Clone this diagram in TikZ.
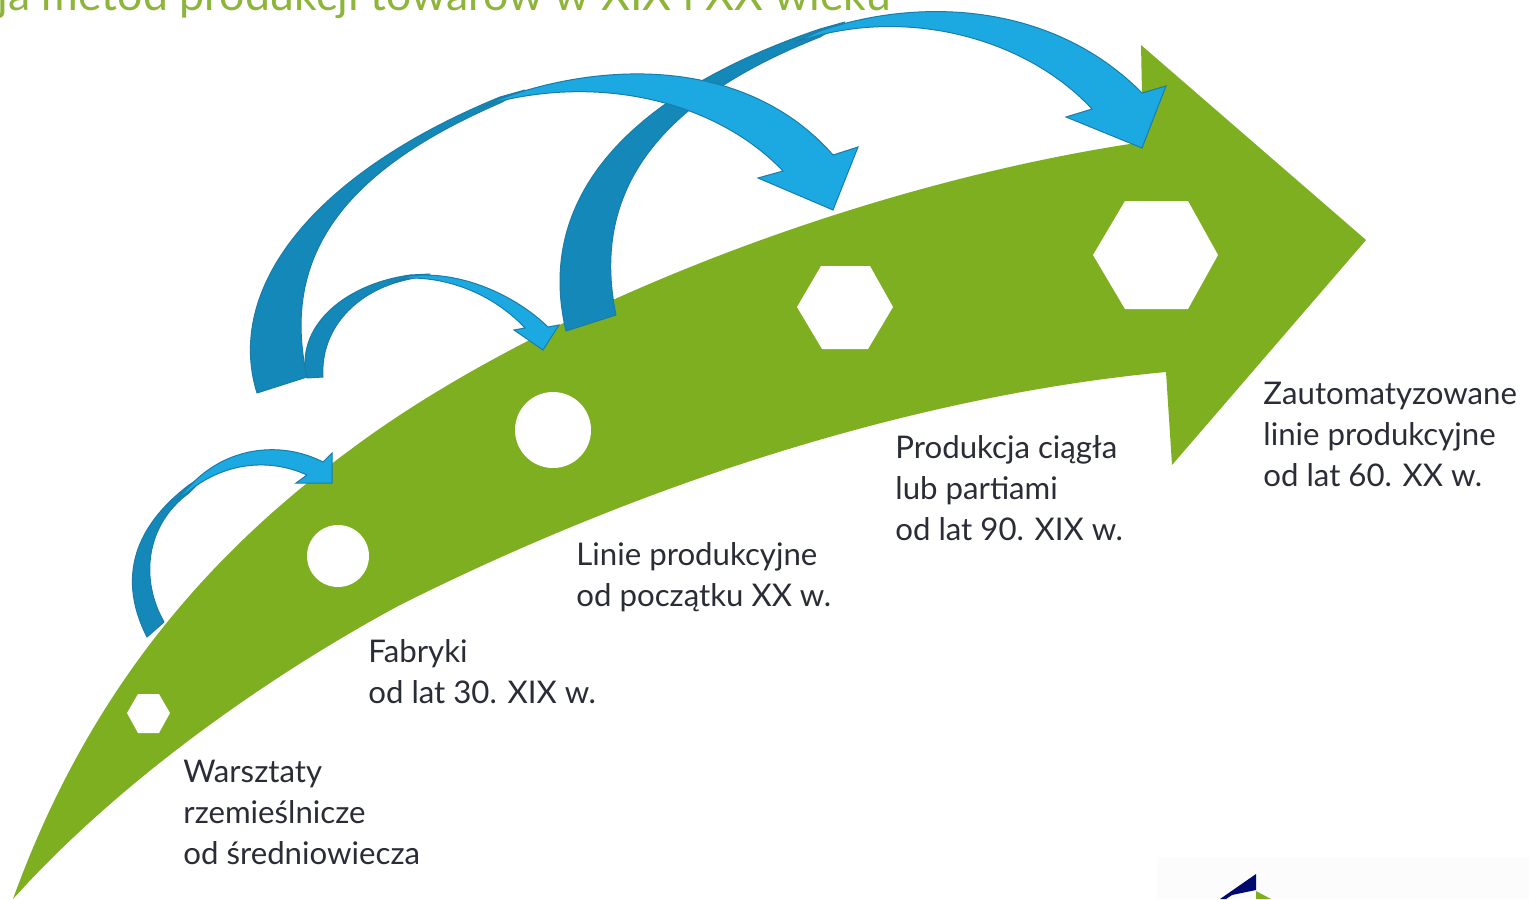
\documentclass[tikz,border=0pt]{standalone}
\usepackage{fontspec}
\setmainfont{Lato}
\definecolor{grn}{HTML}{7DAF20}
\definecolor{ttl}{HTML}{8DB53A}
\definecolor{lite}{HTML}{1CA9E2}
\definecolor{dark}{HTML}{1488B8}
\definecolor{edge}{HTML}{1A7CA8}
\definecolor{ink}{HTML}{2A2C36}
\definecolor{navy}{HTML}{000A6E}
\definecolor{pale}{HTML}{FCFCFC}
\tikzset{
  arrowdark/.style={fill=dark,draw=edge,line width=0.5pt,line join=round},
  arrowlite/.style={fill=lite,draw=edge,line width=0.5pt,line join=miter},
  hole/.style={fill=white,draw=none},
  label/.style={anchor=north west,inner sep=0pt,align=left,text=ink,font=\fontsize{15.6}{20.5}\selectfont}
}
\begin{document}
\begin{tikzpicture}[x=0.5pt,y=-0.5pt]
\clip (0,0) rectangle (1529,899);
\fill[white] (0,0) rectangle (1529,899);
\fill[pale] (1157,857) rectangle (1529,899);
\fill[navy] (1256,874) -- (1256,890) -- (1232,895) -- (1226,899) -- (1220,899) -- cycle;
\fill[grn] (1256,891) -- (1271,899) -- (1256,899) -- cycle;
% title
\node[anchor=base west,inner sep=0pt,text=ttl,font=\fontsize{22.3}{26}\selectfont] (title) at (-3,11) {ja metod produkcji towarów w XIX i XX wieku};
% main arrow
\fill[grn] (13,899) .. controls (85,700) and (200,560) .. (350,450)
  .. controls (530,315) and (850,185) .. (1143,142)
  -- (1141,45) -- (1366,240) -- (1172,465) -- (1166,372)
  .. controls (950,392) and (680,465) .. (400,605)
  .. controls (270,675) and (120,780) .. (13,899) -- cycle;
\fill[hole] (127,713) -- (138,694) -- (159,694) -- (170,713) -- (159,733) -- (138,733) -- cycle;
\fill[hole] (338,556) circle (31);
\fill[hole] (553,430) circle (38);
\fill[hole] (797,307) -- (821,266) -- (870,266) -- (893,307) -- (868,349) -- (822,349) -- cycle;
\fill[hole] (1093,255) -- (1125,201) -- (1188,201) -- (1218,255) -- (1188,309) -- (1125,309) -- cycle;
% arrow 1
\path[arrowdark] (147,637) .. controls (113,570) and (143,520) .. (189,485) -- (212,470) -- (189,493) .. controls (145,525) and (140,580) .. (164,622) -- cycle;
\path[arrowlite] (176,500) -- (189,487) .. controls (225,447) and (280,440) .. (323,462) -- (332,453) -- (332,483) -- (296,483) -- (307,475)
  .. controls (270,458) and (225,462) .. (189,491) -- cycle;
% arrow 4
\path[arrowdark] (566,331) .. controls (535,200) and (625,95) .. (820,29) -- (845,22) -- (820,37) .. controls (660,100) and (590,190) .. (616,315) -- cycle;
\path[arrowlite] (795,42) -- (820,31) .. controls (915,-2) and (1050,0) .. (1142,93) -- (1166,86) -- (1142,148) -- (1066,117) -- (1092,109)
  .. controls (1030,42) and (920,10) .. (820,35) -- cycle;
% arrow 3
\path[arrowdark] (307,378) .. controls (295,330) and (340,285) .. (410,275) -- (430,274) -- (410,279) .. controls (355,290) and (320,330) .. (323,377) -- cycle;
\path[arrowlite] (392,283) -- (410,276) .. controls (460,270) and (515,295) .. (548,327) -- (559,325) -- (543,350) -- (514,330) -- (525,328)
  .. controls (497,298) and (455,278) .. (410,278) -- cycle;
% arrow 2
\path[arrowdark] (257,393) .. controls (225,290) and (310,175) .. (500,97) -- (525,90) -- (500,103) .. controls (345,170) and (280,255) .. (307,377) -- cycle;
\path[arrowlite] (480,108) -- (500,99) .. controls (600,62) and (745,55) .. (833,155) -- (858,147) -- (833,210) -- (758,178) -- (783,171)
  .. controls (720,105) and (610,75) .. (500,101) -- cycle;
% labels
\node[label] (warsztaty) at (183,760) {Warsztaty\\rzemieślnicze\\od średniowiecza};
\node[label] (fabryki) at (368,639) {Fabryki\\od lat 30. XIX w.};
\node[label] (linie) at (576,542) {Linie produkcyjne\\od początku XX w.};
\node[label] (ciagla) at (895,435) {Produkcja ciągła\\lub partiami\\od lat 90. XIX w.};
\node[label] (auto) at (1263,382) {Zautomatyzowane\\linie produkcyjne\\od lat 60. XX w.};
\end{tikzpicture}
\end{document}
